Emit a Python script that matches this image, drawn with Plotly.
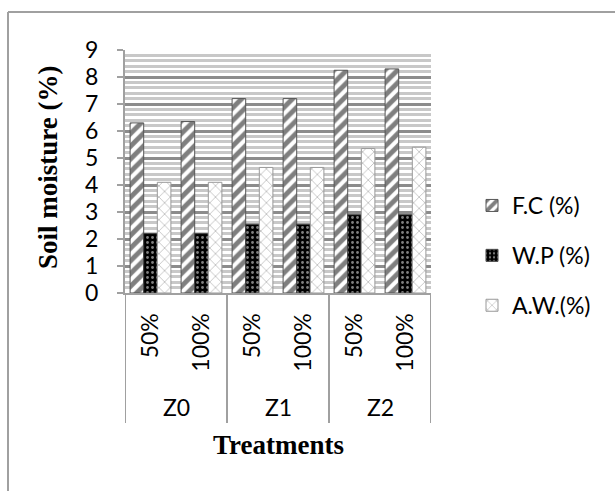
import plotly.graph_objects as go

groups = ["Z0", "Z1", "Z2"]
levels = ["50%", "100%"]
tick_labels = ["50%", "100%", "50%", "100%", "50%", "100%"]
fc = [6.3, 6.35, 7.2, 7.2, 8.25, 8.3]
wp = [2.2, 2.2, 2.55, 2.55, 2.9, 2.9]
aw = [4.1, 4.1, 4.65, 4.65, 5.35, 5.4]
y_ticks = list(range(0, 10))

xpos = list(range(len(tick_labels)))
W, H = 615, 491
L, R, T, B = 125, 431, 50, 293
pw, ph = R - L, B - T

def px2x(px):
    return (px - L) / pw

def px2y(py):
    return (B - py) / ph

tick_font = dict(family="Lato", size=23, color="black")
title_font = dict(family="Liberation Serif", size=27, color="black")

fig = go.Figure()
fig.add_trace(go.Bar(
    x=xpos, y=fc, name="F.C (%)", legendgroup="a",
    marker=dict(color="white", line=dict(color="#555", width=1),
                pattern=dict(shape="/", fgcolor="black", bgcolor="white", size=9, solidity=0.55)),
))
fig.add_trace(go.Bar(
    x=xpos, y=wp, name="W.P (%)", legendgroup="b",
    marker=dict(color="black", line=dict(color="#444", width=1),
                pattern=dict(shape=".", fgcolor="white", bgcolor="black", size=5, solidity=0.25)),
))
fig.add_trace(go.Bar(
    x=xpos, y=aw, name="A.W.(%)", legendgroup="c",
    marker=dict(color="white", line=dict(color="#999", width=1),
                pattern=dict(shape="x", fgcolor="#8a8a8a", bgcolor="white", size=8, solidity=0.22)),
))

shapes = []
# group dividers
for i in range(len(groups) + 1):
    xv = -0.5 + i * len(levels)
    shapes.append(dict(type="line", xref="x", yref="paper", x0=xv, x1=xv,
                       y0=0, y1=px2y(423), line=dict(color="#a0a0a0", width=2)))
# outer frame (partially visible)
shapes.append(dict(type="line", xref="paper", yref="paper", x0=px2x(8), x1=px2x(W + 5),
                   y0=px2y(12), y1=px2y(12), line=dict(color="#a0a0a0", width=2)))
shapes.append(dict(type="line", xref="paper", yref="paper", x0=px2x(8), x1=px2x(8),
                   y0=px2y(12), y1=px2y(H + 5), line=dict(color="#a0a0a0", width=2)))

annotations = []
for gi, g in enumerate(groups):
    annotations.append(dict(x=gi * len(levels) + (len(levels) - 1) / 2, xref="x",
                            y=px2y(407), yref="paper", text=g, showarrow=False,
                            font=tick_font, xanchor="center", yanchor="middle"))
annotations.append(dict(x=0.5, xref="paper", y=px2y(445), yref="paper",
                        text="<b>Treatments</b>", showarrow=False, font=title_font,
                        xanchor="center", yanchor="middle"))
annotations.append(dict(x=px2x(48), xref="paper", y=px2y(167), yref="paper",
                        text="<b>Soil moisture (%)</b>", showarrow=False, font=title_font,
                        textangle=-90, xanchor="center", yanchor="middle"))

fig.update_layout(
    width=W, height=H,
    margin=dict(l=L, r=W - R, t=T, b=H - B),
    paper_bgcolor="white", plot_bgcolor="white",
    barmode="group", bargap=0.2, bargroupgap=0,
    showlegend=True,
    legend=dict(x=px2x(472), y=px2y(184), xanchor="left", yanchor="top",
                font=tick_font, traceorder="grouped", tracegroupgap=17,
                bgcolor="rgba(0,0,0,0)"),
    shapes=shapes, annotations=annotations,
    xaxis=dict(range=[-0.5, len(xpos) - 0.5], tickmode="array", tickvals=xpos,
               ticktext=tick_labels, tickangle=-90, tickfont=tick_font,
               showgrid=False, zeroline=False, showline=True, linecolor="#a0a0a0",
               linewidth=2, ticks="", ticklabelstandoff=9),
    yaxis=dict(range=[0, 9], tickmode="array", tickvals=y_ticks, tickfont=tick_font,
               showgrid=True, gridcolor="#8c8c8c", gridwidth=3,
               minor=dict(dtick=0.2, showgrid=True, gridcolor="#c8c8c8", gridwidth=3, ticks=""),
               zeroline=False, showline=True, linecolor="#a0a0a0", linewidth=2,
               ticks="outside", ticklen=6, tickcolor="#a0a0a0", tickwidth=2,
               ticklabelstandoff=14),
)

fig.write_html("out.html")
